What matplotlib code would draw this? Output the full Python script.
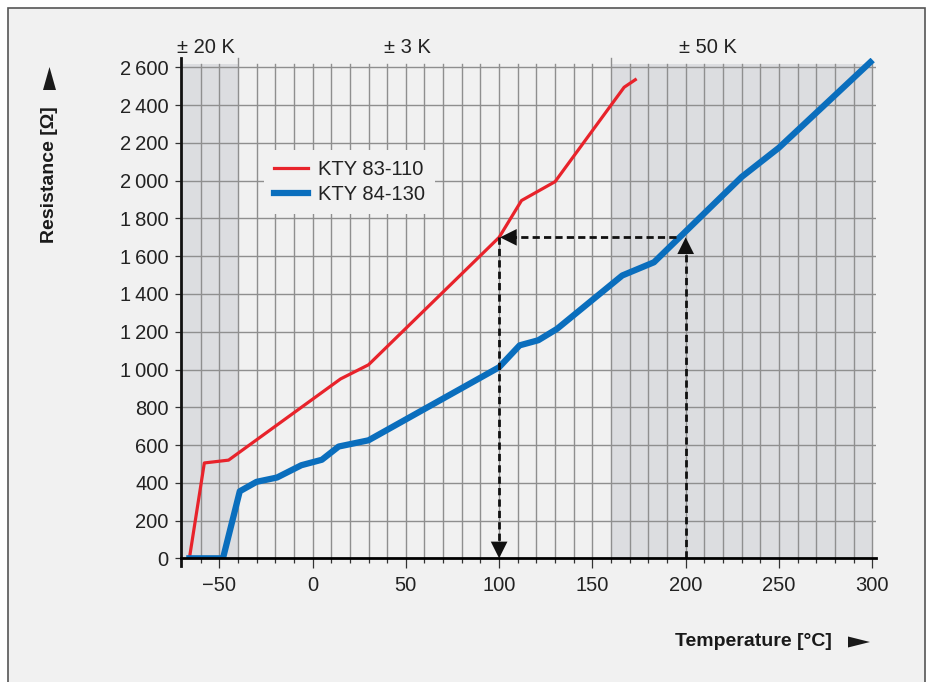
import numpy as np
import matplotlib.pyplot as plt
from matplotlib.patches import Rectangle, Polygon

plt.rcParams['font.family'] = ['Liberation Sans', 'DejaVu Sans']

# KTY 83-110 (red)
red_t = [-66, -58, -45, 15, 30, 100, 112, 130, 167, 173]
red_r = [0, 505, 520, 950, 1025, 1700, 1895, 1995, 2495, 2535]

# KTY 84-130 (blue)
blue_t = [-66, -48, -39, -30, -19, -6, 5, 14, 30, 100, 111, 121, 131, 166, 183, 230, 250, 299]
blue_r = [0, 0, 355, 405, 428, 493, 522, 592, 625, 1012, 1128, 1155, 1215, 1498, 1568, 2020, 2175, 2628]

x_ticks = [-50, 0, 50, 100, 150, 200, 250, 300]
y_ticks = list(range(0, 2601, 200))
tol_labels = ['± 20 K', '± 3 K', '± 50 K']
tol_pos = [-57, 51, 212]
shade_spans = [(-70.5, -40), (160, 300)]

RED = '#e8232b'
BLUE = '#0a6ebd'
BG = '#f1f1f1'
SHADE = '#dcdde0'
GRID = '#8f8f8f'
W, H = 931, 682

fig = plt.figure(figsize=(9.31, 6.82), dpi=100)
fig.patch.set_facecolor('white')
fig.patches.append(Rectangle((8 / W, -0.02), 917 / W, 1 - 8 / H + 0.02,
                             transform=fig.transFigure, facecolor=BG,
                             edgecolor='#555555', lw=1.2, zorder=-10))

ax = fig.add_axes([181 / W, (H - 558.3) / H, 695 / W, 500.3 / H])
ax.set_facecolor('none')
ax.set_xlim(-70.5, 302)
ax.set_ylim(0, 2650)

# shaded tolerance zones
for a, b in shade_spans:
    ax.fill_between([a, b], 0, 2620, color=SHADE, lw=0, zorder=0)

# grid
for t in range(-60, 301, 10):
    top = 2650 if t in (-40, 160) else 2620
    ax.plot([t, t], [0, top], color=GRID, lw=1.0, zorder=1, clip_on=False)
for r in y_ticks[1:]:
    ax.plot([-70.5, 302], [r, r], color=GRID, lw=1.0, zorder=1)

# curves
ax.plot(red_t, red_r, color=RED, lw=2.3, zorder=4, label='KTY 83-110', solid_joinstyle='round')
ax.plot(blue_t, blue_r, color=BLUE, lw=4.5, zorder=4, label='KTY 84-130', solid_joinstyle='round')

# dashed reading guide
dash = dict(color='#111111', lw=2.0, dashes=(2.6, 1.5), zorder=5)
ax.plot([200, 200], [0, 1680], **dash)
ax.plot([195, 105], [1700, 1700], **dash)
ax.plot([100, 100], [1700, 20], **dash)
head = dict(arrowstyle='-|>', color='#111111', lw=0, mutation_scale=30, shrinkA=0, shrinkB=0)
ax.annotate('', xy=(200, 1700), xytext=(200, 1500), arrowprops=head, zorder=6)
ax.annotate('', xy=(100.5, 1700), xytext=(120, 1700), arrowprops=head, zorder=6)
ax.annotate('', xy=(100, 0), xytext=(100, 200), arrowprops=head, zorder=6)

# axes lines
for s in ['top', 'right', 'left']:
    ax.spines[s].set_visible(False)
ax.spines['bottom'].set_linewidth(2)
ax.spines['bottom'].set_zorder(6)
ax.plot([-70.5, -70.5], [-40, 2650], color='#111111', lw=2, clip_on=False, zorder=6)

ax.set_xticks(x_ticks)
ax.set_xticklabels([str(v).replace('-', '\u2212') for v in x_ticks])
ax.set_xticks(range(-60, 301, 10), minor=True)
ax.set_yticks(y_ticks)
ax.set_yticklabels([f'{v:,}'.replace(',', '\u2009') for v in y_ticks])
ax.tick_params(axis='x', which='major', length=7.5, width=0.9, color='#333333',
               labelsize=14.5, pad=5, labelcolor='#222222')
ax.tick_params(axis='x', which='minor', length=3.8, width=0.9, color='#333333')
ax.tick_params(axis='y', length=4, width=0.9, color='#333333', labelsize=14.5,
               pad=5, labelcolor='#222222')

leg = ax.legend(loc='upper left', bbox_to_anchor=(0.105, 0.837), fontsize=14.5,
                frameon=True, facecolor=BG, edgecolor='none', framealpha=1,
                handlelength=1.7, handletextpad=0.5, borderpad=0.5, labelspacing=0.33)
leg.set_zorder(7)
for txt in leg.get_texts():
    txt.set_color('#222222')

for lab, xp in zip(tol_labels, tol_pos):
    ax.text(xp, 2708, lab, ha='center', va='center', fontsize=14.5, color='#222222')

fig.text(50 / W, 1 - 175 / H, 'Resistance [Ω]', rotation=90, ha='center', va='center',
         fontsize=14, fontweight='bold', color='#1a1a1a')
fig.text(832 / W, 1 - 642 / H, 'Temperature [°C]', ha='right', va='center',
         fontsize=14, fontweight='bold', color='#1a1a1a')


def px(pts):
    return [(x / W, 1 - y / H) for x, y in pts]


fig.patches.append(Polygon(px([(43, 90), (56, 90), (49.5, 67)]), closed=True,
                           transform=fig.transFigure, color='#1a1a1a', lw=0))
fig.patches.append(Polygon(px([(848, 636.5), (848, 647.5), (870, 642)]), closed=True,
                           transform=fig.transFigure, color='#1a1a1a', lw=0))

fig.savefig('out.png', dpi=100)
